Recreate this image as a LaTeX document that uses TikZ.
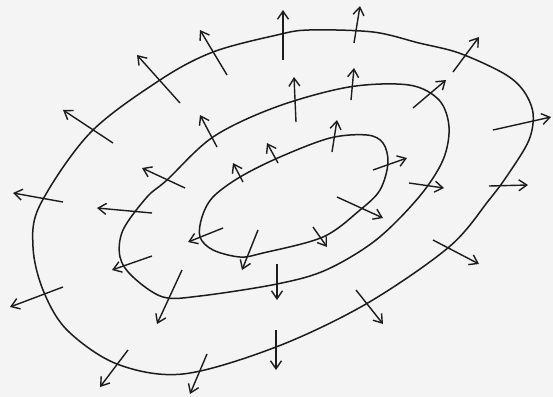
\documentclass[tikz,border=0pt]{standalone}
\usepackage{xcolor}
\definecolor{cInk}{HTML}{1C1C1C}
\definecolor{cPaper}{HTML}{F4F4F4}
\usepackage{tikz}
\usetikzlibrary{arrows.meta}
\tikzset{
  contour/.style={draw=cInk,line width=0.75pt,line join=round},
  % normal vectors crossing the level curves, pointing outwards
  flux/.style={-{Straight Barb[length=4pt,width=5.5pt]},line width=0.7pt,draw=cInk},
}
\begin{document}
\begin{tikzpicture}[x=0.5pt,y=-0.5pt]
  \fill[cPaper] (0,0) rectangle (553,397);
  \useasboundingbox (0,0) rectangle (553,397);
  % outer curve
  \draw[contour] plot[smooth cycle,tension=0.55] coordinates {
    (277,35) (309,30) (373,32) (419,43) (459,53) (503,73) (523,90)
    (533,113) (529,140) (509,173) (489,200) (449,247) (366,304)
    (276,347) (183,374) (117,364) (67,330) (43,290) (33,247) (40,205)
    (90,133) (160,80) (213,52)};
  % middle curve
  \draw[contour] plot[smooth cycle,tension=0.55] coordinates {
    (276,107) (349,87) (409,85) (439,100) (449,127) (443,160) (419,197)
    (376,240) (326,270) (277,284) (200,296) (163,297) (133,277)
    (120,257) (123,230) (147,197) (167,180) (213,137)};
  % inner curve
  \draw[contour] plot[smooth cycle,tension=0.55] coordinates {
    (330,138) (367,135) (383,143) (388,163) (380,190) (360,210)
    (323,237) (263,253) (240,257) (213,250) (200,237) (202,217)
    (213,197) (240,177) (280,157)};
  \draw[flux] (283,60) -- (283,10);
  \draw[flux] (354,43) -- (360,6);
  \draw[flux] (453,72) -- (479,37);
  \draw[flux] (493,130) -- (551,117);
  \draw[flux] (489,186) -- (528,185);
  \draw[flux] (433,240) -- (479,264);
  \draw[flux] (356,290) -- (383,324);
  \draw[flux] (276,330) -- (276,370);
  \draw[flux] (207,354) -- (190,394);
  \draw[flux] (128,350) -- (100,387);
  \draw[flux] (63,287) -- (10,307);
  \draw[flux] (63,202) -- (13,193);
  \draw[flux] (113,143) -- (63,110);
  \draw[flux] (180,103) -- (137,55);
  \draw[flux] (227,75) -- (200,30);
  \draw[flux] (296,122) -- (294,77);
  \draw[flux] (351,100) -- (354,68);
  \draw[flux] (413,108) -- (446,80);
  \draw[flux] (409,183) -- (444,188);
  \draw[flux] (277,264) -- (277,300);
  \draw[flux] (182,270) -- (157,324);
  \draw[flux] (152,256) -- (112,270);
  \draw[flux] (152,213) -- (97,208);
  \draw[flux] (185,188) -- (142,168);
  \draw[flux] (217,147) -- (200,115);
  \draw[flux] (332,152) -- (337,120);
  \draw[flux] (278,163) -- (267,143);
  \draw[flux] (243,182) -- (233,163);
  \draw[flux] (373,170) -- (407,158);
  \draw[flux] (337,197) -- (383,218);
  \draw[flux] (313,227) -- (327,247);
  \draw[flux] (223,228) -- (188,242);
  \draw[flux] (258,230) -- (242,270);
\end{tikzpicture}
\end{document}
